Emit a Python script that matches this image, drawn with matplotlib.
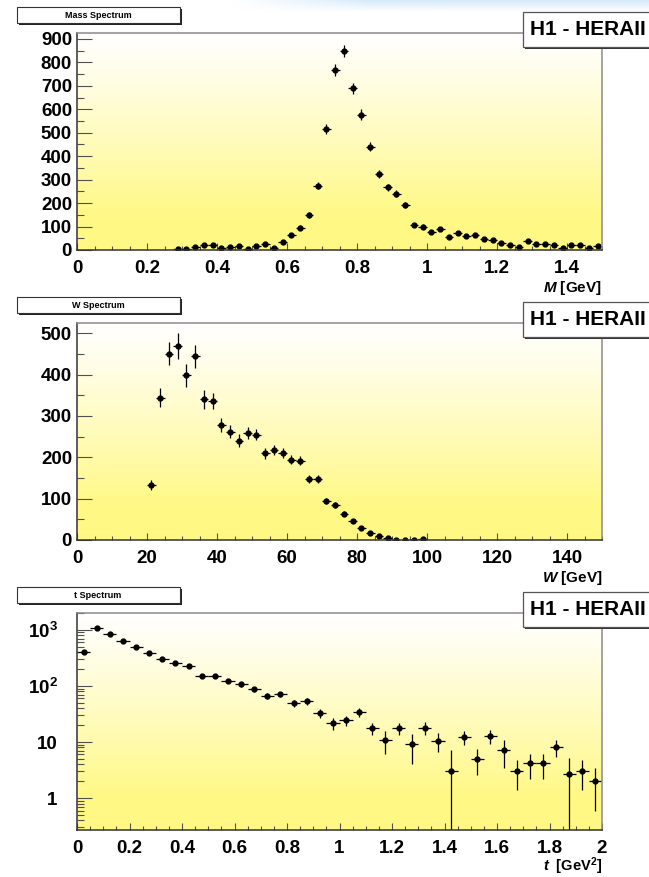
import numpy as np
import matplotlib.pyplot as plt
from matplotlib.patches import Rectangle
from matplotlib.ticker import MultipleLocator, FixedLocator, FixedFormatter, FuncFormatter, LogLocator, NullFormatter

plt.rcParams['font.family'] = ['Liberation Sans', 'DejaVu Sans']
plt.rcParams['mathtext.fontset'] = 'custom'
plt.rcParams['mathtext.rm'] = 'Liberation Sans:bold'
plt.rcParams['mathtext.it'] = 'Liberation Sans:bold:italic'
plt.rcParams['mathtext.bf'] = 'Liberation Sans:bold'

# ---------------------------------------
# DATA
# ---------------------------------------

# mass spectrum, 49 bins of 0.025 GeV from 0.275 to 1.5
mass_lo, mass_hi, mass_nbins = 0.275, 1.5, 49
mass_counts = [3, 5, 14, 21, 21, 8, 14, 17, 6, 17, 24, 7, 36, 64, 95, 150, 274,
               516, 766, 848, 689, 577, 440, 325, 267, 240, 192, 107, 100, 78,
               88, 57, 74, 61, 63, 46, 43, 28, 20, 14, 38, 24, 27, 21, 10, 21,
               21, 10, 19]
mass_err = [3, 4, 5, 6, 6, 4, 5, 5, 4, 5, 6, 4, 7, 8, 10, 12, 16,
            21, 25, 27, 24, 22, 19, 17, 15, 14, 13, 10, 10, 9,
            9, 8, 8, 8, 8, 7, 7, 6, 5, 4, 6, 5, 5, 5, 4, 5,
            5, 4, 5]

# W spectrum, 32 bins of 2.5 GeV from 20 to 100
w_lo, w_hi, w_nbins = 20.0, 100.0, 32
w_counts = [132, 344, 451, 469, 399, 444, 340, 336, 278, 262, 240, 259, 255,
            210, 217, 211, 194, 192, 148, 148, 95, 85, 63, 47, 28, 18, 10, 6,
            1, 1, 1, 2]
w_err = [12, 23, 28, 32, 28, 27, 22, 20, 17, 16, 16, 14, 14,
         13, 12, 12, 11, 11, 10, 10, 7, 7, 6, 5, 4, 3, 3, 2,
         1, 1, 1, 1]

# t spectrum, 40 bins of 0.05 GeV^2 from 0 to 2
t_lo, t_hi, t_nbins = 0.0, 2.0, 40
t_counts = [410, 1070, 850, 645, 490, 394, 302, 260, 228, 152, 152, 124, 107,
            88, 66, 71, 49, 53, 33, 21.5, 24.7, 34, 17.6, 10.9, 17.6, 9.1, 18,
            10.5, 3.07, 12.4, 5.0, 12.8, 7.2, 3.07, 4.2, 4.2, 8.2, 2.65, 3.07,
            2.04]
t_err = [20, 35, 30, 25, 22, 20, 18, 16, 15, 12, 12, 11, 10,
         9, 8, 8, 7, 7, 6, 5, 5, 6, 4.5, 4.7, 4.5, 5, 4.5,
         3.8, 4.1, 3.5, 2.4, 3.5, 3.7, 1.7, 2, 2, 2.8, 2.55, 1.7,
         1.45]

titles = ["Mass Spectrum", "W Spectrum", "t Spectrum"]
xlabels = [r"$\mathit{M}$ [GeV]", r"$\mathit{W}$ [GeV]", r"$\mathit{t}$  [GeV$^{2}$]"]
experiment = "H1 - HERAII"

# ---------------------------------------
# LAYOUT HELPERS (pixel coords of the 649x877 canvas)
# ---------------------------------------

W, H = 649, 877
fig = plt.figure(figsize=(W / 100, H / 100), dpi=100)


def fx(px):
    return px / W


def fy(py):
    return 1 - py / H


def pix_axes(left, top, right, bottom, **kw):
    return fig.add_axes([fx(left), fy(bottom), (right - left) / W, (bottom - top) / H], **kw)


# light blue glow at the very top
glow = pix_axes(230, 0, 649, 12)
g = np.zeros((20, 200, 4))
g[..., 0], g[..., 1], g[..., 2] = 0.80, 0.90, 0.98
vert = np.linspace(1, 0, 20)[:, None]
horiz = np.clip(np.linspace(0, 3, 200), 0, 1)[None, :]
g[..., 3] = vert * horiz * 0.8
glow.imshow(g, aspect='auto', extent=[0, 1, 0, 1])
glow.axis('off')

# yellow gradient used as plot background (row 0 = bottom)
tt = np.linspace(0, 1, 256)[:, None]
mix = np.clip((1 - tt) / 0.85, 0, 1) ** 1.1
bottom_col = np.array([1.0, 0.975, 0.52])
grad = np.ones((256, 1, 3)) * (1 - mix[..., None]) + bottom_col * mix[..., None]

panel_tops = [33, 323, 613]
ax_left, ax_right, ax_h = 77, 602, 217


def draw_frame(ax, top, title):
    # background
    bg = pix_axes(ax_left, top, ax_right, top + ax_h, zorder=0)
    bg.imshow(grad, aspect='auto', extent=[0, 1, 0, 1], origin='lower')
    bg.axis('off')
    ax.set_facecolor('none')
    ax.set_zorder(1)

    for s in ['left', 'bottom']:
        ax.spines[s].set_color('#333333')
        ax.spines[s].set_linewidth(1.1)
    for s in ['top', 'right']:
        ax.spines[s].set_color('#8a8a8a')
        ax.spines[s].set_linewidth(1.1)

    ax.tick_params(axis='both', which='both', direction='in', color='#505050',
                   width=0.8, labelsize=13.5)
    ax.tick_params(axis='y', which='major', length=11, pad=3.6)
    ax.tick_params(axis='y', which='minor', length=5)
    ax.tick_params(axis='x', which='major', length=4.8, pad=7)
    ax.tick_params(axis='x', which='minor', length=2.6)
    for lab in ax.get_xticklabels() + ax.get_yticklabels():
        lab.set_fontweight('bold')

    # title box (top-left)
    ty = top - 26
    fig.patches.append(Rectangle((fx(19), fy(ty + 18)), 163 / W, 16 / H,
                                 transform=fig.transFigure, facecolor='#222222',
                                 edgecolor='none', zorder=2))
    fig.patches.append(Rectangle((fx(17), fy(ty + 16)), 163 / W, 16 / H,
                                 transform=fig.transFigure, facecolor='white',
                                 edgecolor='#333333', lw=0.8, zorder=3))
    fig.text(fx(98), fy(ty + 8), title, fontsize=6.5, fontweight='bold',
             ha='center', va='center', zorder=4)

    # experiment box (top-right)
    by = top - 21
    fig.patches.append(Rectangle((fx(525), fy(by + 37)), 140 / W, 35 / H,
                                 transform=fig.transFigure, facecolor='#333333',
                                 edgecolor='none', zorder=5))
    fig.patches.append(Rectangle((fx(523), fy(by + 35)), 140 / W, 35 / H,
                                 transform=fig.transFigure, facecolor='white',
                                 edgecolor='#555555', lw=0.9, zorder=6))
    fig.text(fx(530), fy(by + 17.5), experiment, fontsize=15, fontweight='bold',
             ha='left', va='center', zorder=7)


def centers(lo, hi, n):
    edges = np.linspace(lo, hi, n + 1)
    return 0.5 * (edges[:-1] + edges[1:]), 0.5 * (hi - lo) / n


def g_fmt(v, pos):
    return f"{v:g}"


# ---------------------------------------
# PANEL 1: MASS
# ---------------------------------------

ax1 = pix_axes(ax_left, panel_tops[0], ax_right, panel_tops[0] + ax_h)
xc, hw = centers(mass_lo, mass_hi, mass_nbins)
ax1.errorbar(xc, mass_counts, xerr=hw, yerr=mass_err, fmt='o', color='black',
             ms=3.5, elinewidth=0.9, capsize=0)
ax1.set_xlim(0, 1.5)
ax1.set_ylim(0, 925)
ax1.xaxis.set_major_locator(MultipleLocator(0.2))
ax1.xaxis.set_minor_locator(MultipleLocator(0.05))
ax1.xaxis.set_major_formatter(FuncFormatter(g_fmt))
ax1.yaxis.set_major_locator(MultipleLocator(100))
ax1.yaxis.set_minor_locator(MultipleLocator(50))
draw_frame(ax1, panel_tops[0], titles[0])
ax1.text(1.0, -0.175, xlabels[0], transform=ax1.transAxes, ha='right',
         va='center', fontsize=11, fontweight='bold')

# ---------------------------------------
# PANEL 2: W
# ---------------------------------------

ax2 = pix_axes(ax_left, panel_tops[1], ax_right, panel_tops[1] + ax_h)
xc, hw = centers(w_lo, w_hi, w_nbins)
ax2.errorbar(xc, w_counts, xerr=hw, yerr=w_err, fmt='o', color='black',
             ms=3.5, elinewidth=0.9, capsize=0)
ax2.set_xlim(0, 150)
ax2.set_ylim(0, 525)
ax2.xaxis.set_major_locator(MultipleLocator(20))
ax2.xaxis.set_minor_locator(MultipleLocator(5))
ax2.yaxis.set_major_locator(MultipleLocator(100))
ax2.yaxis.set_minor_locator(MultipleLocator(50))
draw_frame(ax2, panel_tops[1], titles[1])
ax2.text(1.0, -0.175, xlabels[1], transform=ax2.transAxes, ha='right',
         va='center', fontsize=11, fontweight='bold')

# ---------------------------------------
# PANEL 3: t (log)
# ---------------------------------------

ax3 = pix_axes(ax_left, panel_tops[2], ax_right, panel_tops[2] + ax_h)
xc, hw = centers(t_lo, t_hi, t_nbins)
t_y = np.array(t_counts)
t_e = np.array(t_err)
low_e = np.minimum(t_e, t_y - 1e-3)
ax3.errorbar(xc, t_y, xerr=hw, yerr=[low_e, t_e], fmt='o', color='black',
             ms=3.5, elinewidth=0.9, capsize=0)
ax3.set_yscale('log')
ax3.set_xlim(0, 2)
ax3.set_ylim(0.27, 2000)
ax3.xaxis.set_major_locator(MultipleLocator(0.2))
ax3.xaxis.set_minor_locator(MultipleLocator(0.05))
ax3.xaxis.set_major_formatter(FuncFormatter(g_fmt))
ax3.yaxis.set_major_locator(FixedLocator([1, 10, 100, 1000]))
ax3.yaxis.set_major_formatter(FixedFormatter(["1", "10", r"10$^{2}$", r"10$^{3}$"]))
ax3.yaxis.set_minor_locator(LogLocator(base=10, subs=np.arange(2, 10)))
ax3.yaxis.set_minor_formatter(NullFormatter())
draw_frame(ax3, panel_tops[2], titles[2])
ax3.tick_params(axis='y', which='major', pad=14)
ax3.text(1.0, -0.118, xlabels[2], transform=ax3.transAxes, ha='right',
         va='top', fontsize=10.5, fontweight='bold')

fig.savefig("out.png", dpi=100)
